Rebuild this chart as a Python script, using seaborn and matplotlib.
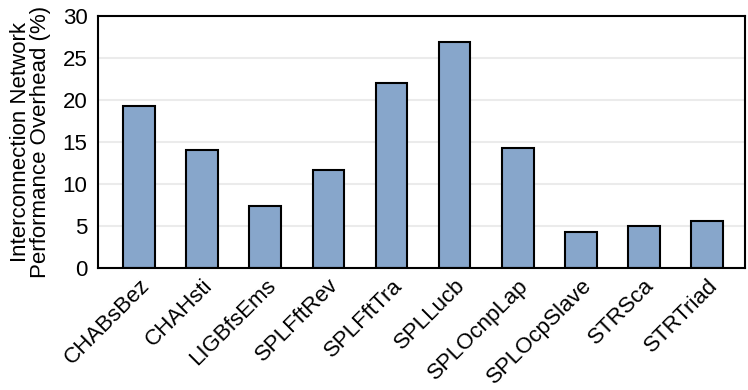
import pandas as pd
import matplotlib.pyplot as plt
import seaborn as sns

benchmarks = ["CHABsBez", "CHAHsti", "LIGBfsEms", "SPLFftRev", "SPLFftTra",
              "SPLLucb", "SPLOcnpLap", "SPLOcpSlave", "STRSca", "STRTriad"]
overhead = [19.2, 14.05, 7.4, 11.6, 22.0, 26.9, 14.3, 4.3, 4.95, 5.55]

df = pd.DataFrame({"Benchmark": benchmarks, "Overhead": overhead})

sns.set_style("white")
plt.rcParams['font.family'] = ['Liberation Sans', 'DejaVu Sans']
plt.rcParams['text.color'] = 'black'
plt.rcParams['axes.labelcolor'] = 'black'

fig, ax = plt.subplots(figsize=(7.48, 3.9), dpi=100)
sns.barplot(data=df, x="Benchmark", y="Overhead", color="#87a6cb",
            saturation=1, width=0.5, edgecolor="black", linewidth=1.5, ax=ax)

ax.set_ylim(0, 30)
ax.set_xlim(-0.65, 9.6)
ax.set_yticks(range(0, 31, 5))
ax.grid(axis='y', color='#ebebeb', linewidth=1.5)
ax.set_axisbelow(True)
ax.set_xlabel("")
ax.set_ylabel("Interconnection Network\nPerformance Overhead (%)", fontsize=16,
              linespacing=0.95)
ax.yaxis.set_label_coords(-0.072, 0.5)
ax.tick_params(axis='both', labelsize=16, direction='out', length=4, width=1.2, colors='black')
ax.tick_params(axis='x', pad=1)
plt.setp(ax.get_xticklabels(), rotation=45, ha='right', rotation_mode='anchor')
for s in ax.spines.values():
    s.set_color('black')
    s.set_linewidth(1.5)

fig.subplots_adjust(left=0.131, right=0.996, top=0.96, bottom=0.313)
fig.savefig("out.png", dpi=100)
